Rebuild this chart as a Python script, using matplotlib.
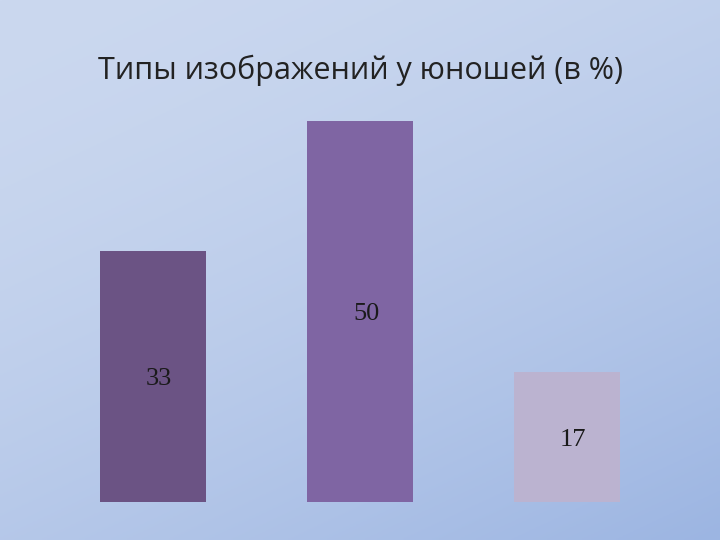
import numpy as np
import matplotlib
matplotlib.use("Agg")
import matplotlib.pyplot as plt

categories = ["Тип 1", "Тип 2", "Тип 3"]
values = [33, 50, 17]
colors = ["#6B5384", "#7F65A3", "#BBB3D0"]
title = "Типы изображений у юношей (в %)"

fig = plt.figure(figsize=(7.2, 5.4), dpi=100)

# gradient background
bg = fig.add_axes([0, 0, 1, 1])
yy, xx = np.mgrid[0:1:200j, 0:1:200j]
t = np.clip((xx * 0.5 + yy * 0.8) / 1.3, 0, 1) ** 1.6
c0 = np.array([0xCB, 0xD8, 0xEF]) / 255
c1 = np.array([0x9C, 0xB5, 0xE2]) / 255
img = c0[None, None, :] * (1 - t[..., None]) + c1[None, None, :] * t[..., None]
bg.imshow(img, aspect="auto", extent=[0, 1, 0, 1], origin="upper")
bg.axis("off")

ax = fig.add_axes([0, 38 / 540, 1, 381 / 540])
ax.patch.set_alpha(0)
x = np.arange(len(values))
ax.bar(x, values, width=106 / 207, color=colors)
ax.set_xlim(-153 / 207, (720 - 153) / 207)
ax.set_ylim(0, 50)
ax.axis("off")
for xi, v in zip(x, values):
    ax.text(xi + 0.03, v / 2 - 0.3, str(v), ha="center", va="center",
            fontsize=19, family="Liberation Serif", color="#1a1a1a")

fig.text(0.5, 0.87, title, ha="center", va="center", fontsize=22,
         family="Open Sans", color="#222222")

fig.savefig("out.png", dpi=100)
